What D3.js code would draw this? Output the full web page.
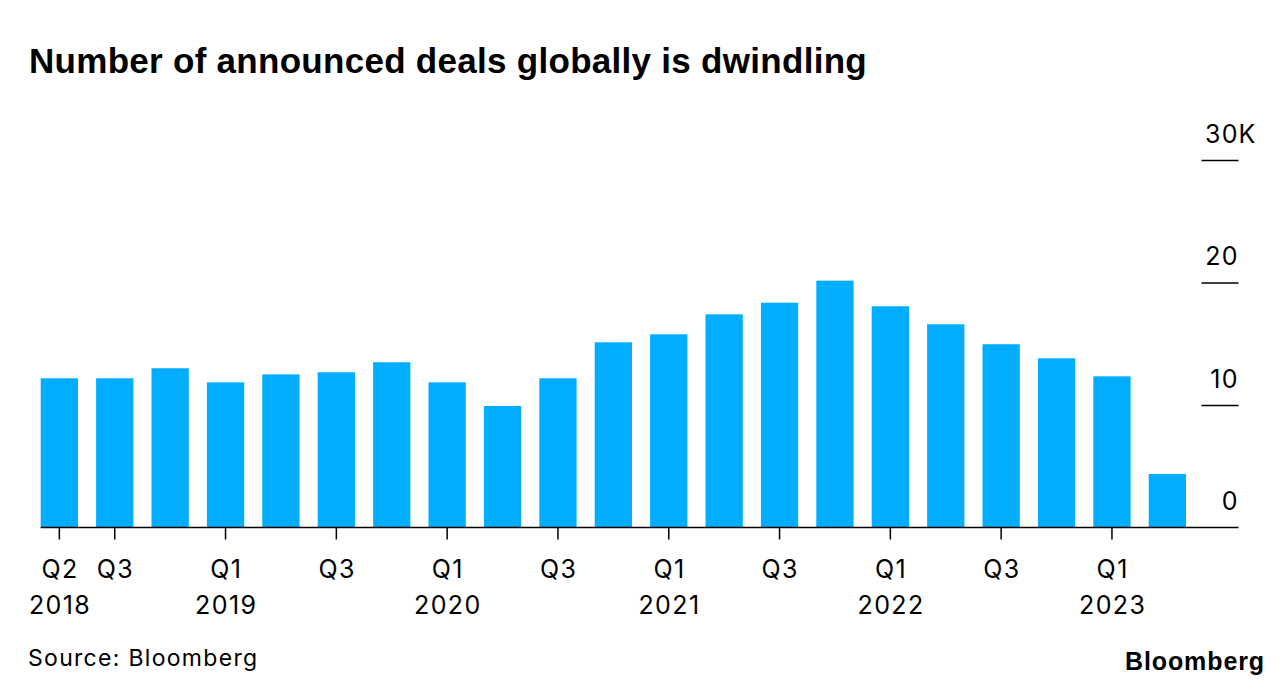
<!DOCTYPE html>
<html>
<head>
<meta charset="utf-8">
<script src="https://cdn.jsdelivr.net/npm/d3@7"></script>
<style>
  html, body { margin: 0; padding: 0; background: #fff; }
  svg { display: block; }
  .lbl { font-family: Inter, "Liberation Sans", sans-serif; font-size: 25px; fill: #000; letter-spacing: 1.4px; }
  .src { font-family: Inter, "Liberation Sans", sans-serif; font-size: 23px; fill: #000; letter-spacing: 1.3px; }
</style>
</head>
<body>
<script>
// ---- Data (thousands of announced deals per quarter) ----
const quarters = ["Q2 2018","Q3 2018","Q4 2018","Q1 2019","Q2 2019","Q3 2019","Q4 2019",
                  "Q1 2020","Q2 2020","Q3 2020","Q4 2020","Q1 2021","Q2 2021","Q3 2021",
                  "Q4 2021","Q1 2022","Q2 2022","Q3 2022","Q4 2022","Q1 2023","Q2 2023"];
const deals = [12.18, 12.18, 13.0, 11.85, 12.5, 12.67, 13.49,
               11.85, 9.92, 12.18, 15.12, 15.77, 17.4, 18.35,
               20.15, 18.06, 16.59, 14.96, 13.81, 12.34, 4.37];
const xTickQuarters = ["Q2 2018","Q3 2018","Q1 2019","Q3 2019","Q1 2020","Q3 2020",
                       "Q1 2021","Q3 2021","Q1 2022","Q3 2022","Q1 2023"];
const xTickLines1 = ["Q2","Q3","Q1","Q3","Q1","Q3","Q1","Q3","Q1","Q3","Q1"];
const xTickLines2 = ["2018","","2019","","2020","","2021","","2022","","2023"];
const yTicks = [0, 10, 20, 30];
const yTickLabels = ["0", "10", "20", "30"];
const yUnit = "K";
const titleText = "Number of announced deals globally is dwindling";
const sourceText = "Source: Bloomberg";
const brandText = "Bloomberg";

const W = 1288, H = 696;
const svg = d3.select("body").append("svg").attr("width", W).attr("height", H);

const x = d3.scaleBand().domain(quarters).range([40.7, 1186]).paddingInner(0.327).paddingOuter(0);
const y = d3.scaleLinear().domain([0, 30]).range([527.5, 160]);

// Title
const title = svg.append("text")
  .attr("x", 29).attr("y", 73)
  .style("font-family", "'Liberation Sans', Arial, sans-serif")
  .style("font-weight", "700").style("font-size", "35px")
  .text(titleText);
{
  const len = title.node().getComputedTextLength();
  const ls = (838 - len) / (titleText.length);
  title.style("letter-spacing", ls + "px");
}

// Bars
svg.append("g").selectAll("rect").data(deals).join("rect")
  .attr("x", (d, i) => x(quarters[i]))
  .attr("y", d => y(d))
  .attr("width", x.bandwidth())
  .attr("height", d => y(0) - y(d))
  .attr("fill", "#00adff");

// Baseline
svg.append("line")
  .attr("x1", 40.7).attr("x2", 1238.5)
  .attr("y1", y(0)).attr("y2", y(0))
  .attr("stroke", "#000").attr("stroke-width", 1.5);

// X axis
const xAxis = d3.axisBottom(x).tickValues(xTickQuarters).tickSize(12).tickSizeOuter(0).tickFormat("");
const gx = svg.append("g").attr("transform", `translate(0,${y(0)})`).call(xAxis);
gx.select(".domain").remove();
gx.selectAll(".tick line").attr("stroke", "#000").attr("stroke-width", 1.5);
gx.selectAll(".tick").each(function(d, i) {
  const t = d3.select(this).append("text").attr("class", "lbl").attr("text-anchor", "middle");
  t.append("tspan").attr("x", 0.7).attr("y", 50).text(xTickLines1[i]);
  if (xTickLines2[i]) t.append("tspan").attr("x", 0.7).attr("y", 86).text(xTickLines2[i]);
});

// Y axis (right side)
const yAxis = d3.axisRight(y).tickValues(yTicks).tickSize(37).tickFormat("");
const gy = svg.append("g").attr("transform", "translate(1201.5,0)").call(yAxis);
gy.select(".domain").remove();
gy.selectAll(".tick line").attr("stroke", "#000").attr("stroke-width", 1.5)
  .attr("opacity", (d) => d === 0 ? 0 : 1);
gy.selectAll(".tick").each(function(d, i) {
  const g = d3.select(this);
  g.append("text").attr("class", "lbl").attr("text-anchor", "end")
    .attr("x", 37.5).attr("y", -18).text(yTickLabels[i]);
  if (i === yTicks.length - 1) {
    g.append("text").attr("class", "lbl").attr("text-anchor", "start")
      .attr("x", 37).attr("y", -18).text(yUnit);
  }
});

// Source
svg.append("text").attr("class", "src").attr("x", 28).attr("y", 666).text(sourceText);

// Brand
const brand = svg.append("text")
  .attr("x", 1265).attr("y", 670).attr("text-anchor", "end")
  .style("font-family", "'Liberation Sans', Arial, sans-serif")
  .style("font-weight", "700").style("font-size", "25px")
  .text(brandText);
{
  const len = brand.node().getComputedTextLength();
  brand.style("letter-spacing", ((140 - len) / brandText.length) + "px");
}
</script>
</body>
</html>
